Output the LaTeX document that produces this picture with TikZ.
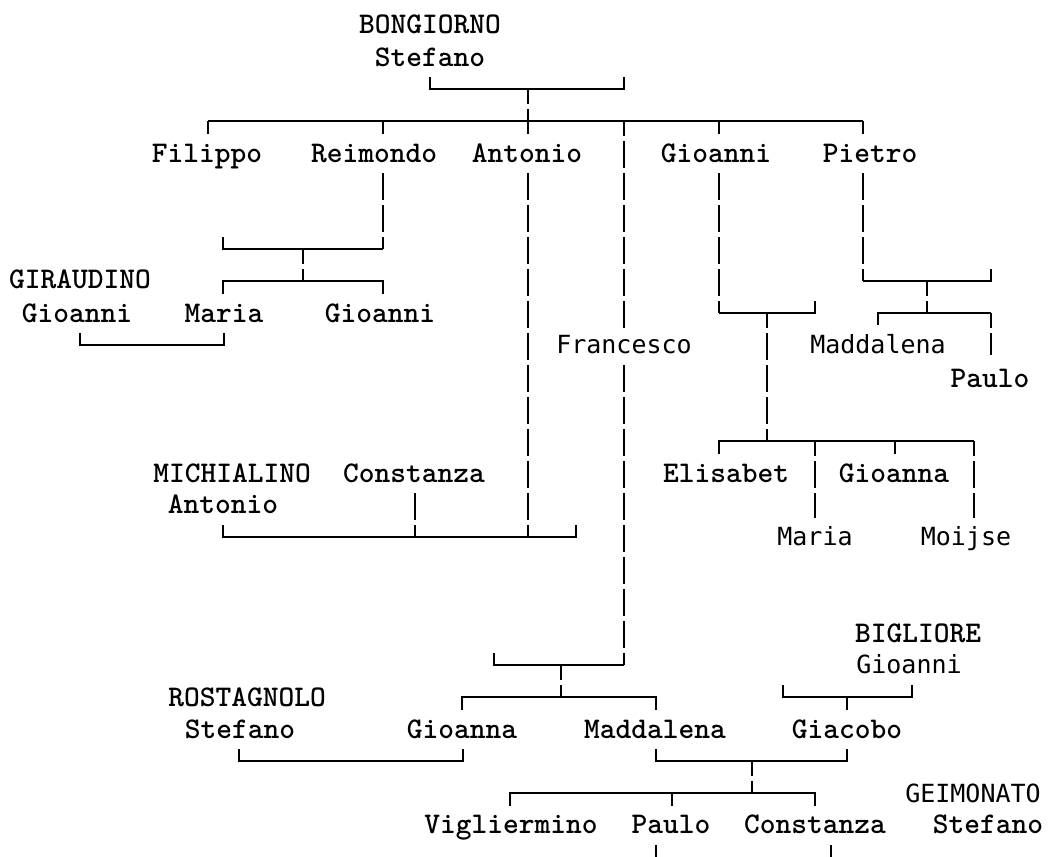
\documentclass[tikz,border=0pt]{standalone}
\usepackage{fontspec}
\newfontfamily\monosans{DejaVu Sans Mono}
\begin{document}
\begin{tikzpicture}[x=1pt,y=-1pt,
  sername/.style={font=\ttfamily\bfseries\fontsize{30}{32}\selectfont, anchor=base, inner sep=0pt},
  sanname/.style={font=\monosans\fontsize{25}{30}\selectfont, anchor=base, inner sep=0pt},
  hl/.style={line width=1.6pt},
  vl/.style={line width=1.6pt, dash pattern=on 27pt off 5pt, dash phase=#1},
  vl/.default=0]
\useasboundingbox[fill=white] (0,0) rectangle (1050,857);
% ---- names (serif mono) ----
\node[sername] (bong) at (430,33) {BONGIORNO};
\node[sername] (stef1) at (430,66) {Stefano};
\node[sername] (filippo) at (207,162) {Filippo};
\node[sername] (reimondo) at (374,162) {Reimondo};
\node[sername] (antonio) at (527,162) {Antonio};
\node[sername] (gioanni1) at (716,162) {Gioanni};
\node[sername] (pietro) at (870,162) {Pietro};
\node[sername] (giraudino) at (80,288) {GIRAUDINO};
\node[sername] (gioanniG) at (77,322) {Gioanni};
\node[sername] (maria1) at (224,322) {Maria};
\node[sername] (gioanni2) at (380,322) {Gioanni};
\node[sername] (paulo1) at (990,387) {Paulo};
\node[sername] (michialino) at (232,482) {MICHIALINO};
\node[sername] (constanza1) at (414,482) {Constanza};
\node[sername] (elisabet) at (726,482) {Elisabet};
\node[sername] (gioanna1) at (894,482) {Gioanna};
\node[sername] (antonioM) at (223,513) {Antonio};
\node[sername] (bigliore) at (918,642) {BIGLIORE};
\node[sername] (rostagnolo) at (247,706) {ROSTAGNOLO};
\node[sername] (stefanoR) at (240,738) {Stefano};
\node[sername] (gioanna2) at (462,738) {Gioanna};
\node[sername] (maddalena2) at (655,738) {Maddalena};
\node[sername] (giacobo) at (847,738) {Giacobo};
\node[sername] (vigliermino) at (511,833) {Vigliermino};
\node[sername] (paulo2) at (671,833) {Paulo};
\node[sername] (constanza2) at (815,833) {Constanza};
\node[sername] (stefanoG) at (988,833) {Stefano};
% ---- names (sans mono) ----
\node[sanname] (francesco) at (624,353) {Francesco};
\node[sanname] (maddalena1) at (878,353) {Maddalena};
\node[sanname] (maria2) at (815,545) {Maria};
\node[sanname] (moijse) at (966,545) {Moijse};
\node[sanname] (gioanniB) at (909,673) {Gioanni};
\node[sanname] (geimonato) at (973,802) {GEIMONATO};
% ---- top family ----
\draw[hl] (430,77) -- (430,89) -- (624,89) -- (624,77);
\draw[vl=12] (528,89) -- (528,121);
\draw[hl] (208,121) -- (863,121);
\draw[hl] (208,121) -- (208,134);
\draw[hl] (383,121) -- (383,134);
\draw[hl] (528,121) -- (528,134);
\draw[hl] (719,121) -- (719,134);
\draw[hl] (863,121) -- (863,134);
\draw[vl=12] (624,121) -- (624,328);
% Reimondo
\draw[vl] (383,173) -- (383,249);
\draw[hl] (223,237) -- (223,249) -- (383,249);
\draw[vl=12] (303,249) -- (303,281);
\draw[hl] (223,294) -- (223,281) -- (383,281) -- (383,294);
\draw[hl] (80,333) -- (80,345) -- (224,345) -- (224,333);
% Antonio
\draw[vl] (528,173) -- (528,537);
\draw[vl] (415,493) -- (415,537);
\draw[hl] (223,525) -- (223,537) -- (576,537) -- (576,525);
% Gioanni
\draw[vl] (719,173) -- (719,313);
\draw[hl] (719,313) -- (815,313) -- (815,301);
\draw[vl=12] (767,313) -- (767,441);
\draw[hl] (719,454) -- (719,441) -- (974,441);
\draw[hl] (895,441) -- (895,454);
\draw[vl=12] (815,441) -- (815,518);
\draw[vl=12] (974,441) -- (974,518);
% Pietro
\draw[vl] (863,173) -- (863,281);
\draw[hl] (863,281) -- (991,281) -- (991,269);
\draw[vl=12] (927,281) -- (927,313);
\draw[hl] (878,325) -- (878,313) -- (991,313);
\draw[vl=12] (991,313) -- (991,355);
% Francesco
\draw[vl] (624,365) -- (624,665);
\draw[hl] (494,653) -- (494,665) -- (624,665);
\draw[vl=12] (561,665) -- (561,697);
\draw[hl] (462,710) -- (462,697) -- (656,697) -- (656,710);
\draw[hl] (239,749) -- (239,761) -- (463,761) -- (463,749);
% Bigliore
\draw[hl] (783,685) -- (783,697) -- (912,697) -- (912,685);
\draw[hl] (847,697) -- (847,710);
% Maddalena & Giacobo
\draw[hl] (656,749) -- (656,761) -- (847,761) -- (847,749);
\draw[vl=12] (752,761) -- (752,793);
\draw[hl] (510,806) -- (510,793) -- (815,793) -- (815,806);
\draw[hl] (672,793) -- (672,806);
\draw[hl] (656,845) -- (656,857);
\draw[hl] (831,845) -- (831,857);
\end{tikzpicture}
\end{document}
